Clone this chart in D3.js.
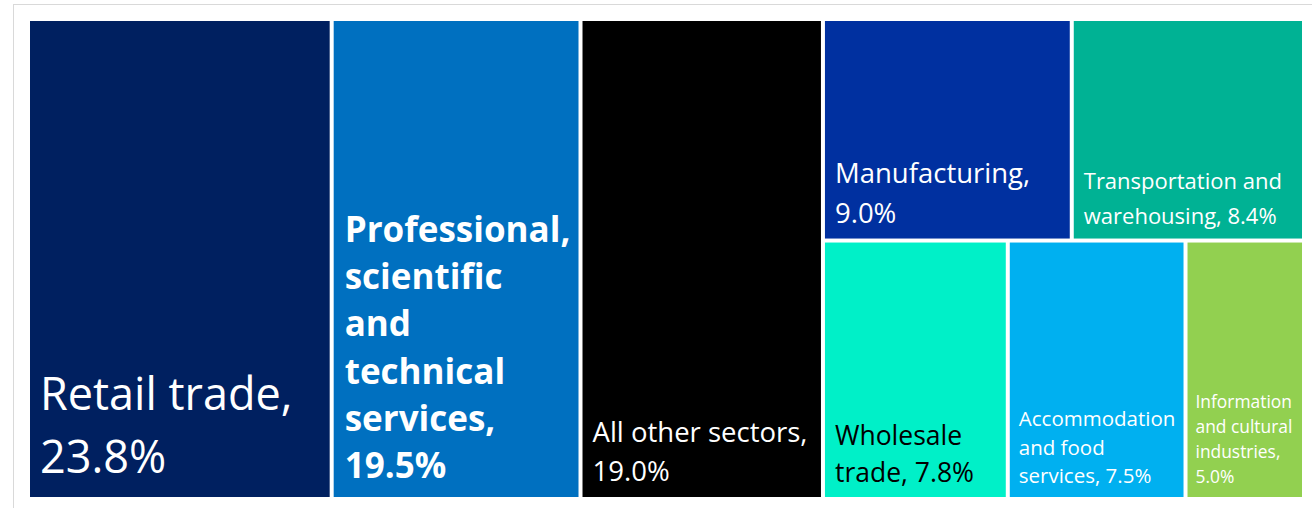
<!DOCTYPE html>
<html>
<head>
<meta charset="utf-8">
<script src="https://cdn.jsdelivr.net/npm/d3@7"></script>
<style>
  html, body { margin: 0; padding: 0; background: #fff; }
  svg { display: block; }
  text { font-family: "Open Sans", "Noto Sans", sans-serif; }
</style>
</head>
<body>
<svg id="chart" width="1312" height="508"></svg>
<script>
// Share of businesses by sector (%)
const sectors = [
  "Retail trade",
  "Professional, scientific and technical services",
  "All other sectors",
  "Manufacturing",
  "Transportation and warehousing",
  "Wholesale trade",
  "Accommodation and food services",
  "Information and cultural industries"
];
const shares = [23.8, 19.5, 19.0, 9.0, 8.4, 7.8, 7.5, 5.0];

// Smaller sectors are stacked in two rows on the right-hand side
const rowOf = [null, null, null, 0, 0, 1, 1, 1];

// Words placed on each line of a label ("<name>, <share>%")
const wordsPerLine = [
  [2, 1],
  [1, 1, 1, 1, 1, 1],
  [3, 1],
  [1, 1],
  [2, 2],
  [1, 2],
  [1, 2, 2],
  [1, 2, 1, 1]
];

// Fill and label styling
const fills = ["#002060", "#0070C0", "#000000", "#0030A0", "#00B294", "#00F0C8", "#00B0F0", "#92D050"];
const inkColors = ["#fff", "#fff", "#fff", "#fff", "#fff", "#000", "#fff", "#fff"];
const labelStyle = [
  { size: 45, weight: 400, leading: 63.3, pad: 24, inset: 10 },
  { size: 35, weight: 700, leading: 47.3, pad: 18.7, inset: 11 },
  { size: 27.5, weight: 400, leading: 39.3, pad: 16, inset: 10 },
  { size: 27.5, weight: 400, leading: 39.6, pad: 15.7, inset: 10 },
  { size: 22, weight: 400, leading: 35, pad: 15, inset: 10 },
  { size: 26.5, weight: 400, leading: 36.7, pad: 15.3, inset: 10 },
  { size: 20.5, weight: 400, leading: 28.8, pad: 13.7, inset: 9 },
  { size: 17.4, weight: 400, leading: 25, pad: 13.7, inset: 8 }
];

const svg = d3.select("#chart");

// Light frame around the plot area
svg.append("rect")
  .attr("x", 13.5).attr("y", 4.5)
  .attr("width", 1400).attr("height", 600)
  .attr("fill", "none")
  .attr("stroke", "#d9d9d9")
  .attr("stroke-width", 1);

// Build the hierarchy: three large sectors side by side, then a block of two rows
const leaves = sectors.map((name, i) => ({ name, value: shares[i], i }));
const rows = [0, 1].map(r => ({ name: "row" + r, children: leaves.filter(d => rowOf[d.i] === r) }));
const rootData = {
  name: "all",
  children: [
    ...leaves.filter(d => rowOf[d.i] === null),
    { name: "others", children: rows }
  ]
};

const root = d3.hierarchy(rootData)
  .sum(d => d.children ? 0 : d.value);

// Columns across the top level, rows inside the block, columns inside each row
const tile = (node, x0, y0, x1, y1) => {
  if (node.depth === 1) d3.treemapSlice(node, x0, y0, x1, y1);
  else d3.treemapDice(node, x0, y0, x1, y1);
};

const W = 1272, H = 476, X0 = 30, Y0 = 21;
d3.treemap()
  .tile(tile)
  .size([W, H])
  .paddingInner(4)
  .round(false)(root);

const g = svg.append("g").attr("transform", `translate(${X0},${Y0})`);

const cells = g.selectAll("g.cell")
  .data(root.leaves())
  .join("g")
  .attr("class", "cell");

cells.append("rect")
  .attr("x", d => d.x0)
  .attr("y", d => d.y0)
  .attr("width", d => d.x1 - d.x0)
  .attr("height", d => d.y1 - d.y0)
  .attr("fill", d => fills[d.data.i]);

const fmt = d3.format(".1f");

cells.each(function (d) {
  const i = d.data.i;
  const st = labelStyle[i];
  const words = `${sectors[i]}, ${fmt(shares[i])}%`.split(" ");
  const lines = [];
  let k = 0;
  wordsPerLine[i].forEach(n => { lines.push(words.slice(k, k + n).join(" ")); k += n; });
  const lastBase = d.y1 - st.pad;
  const t = d3.select(this).append("text")
    .attr("fill", inkColors[i])
    .attr("font-size", st.size)
    .attr("font-weight", st.weight);
  lines.forEach((ln, j) => {
    t.append("tspan")
      .attr("x", d.x0 + st.inset)
      .attr("y", lastBase - (lines.length - 1 - j) * st.leading)
      .text(ln);
  });
});
</script>
</body>
</html>
